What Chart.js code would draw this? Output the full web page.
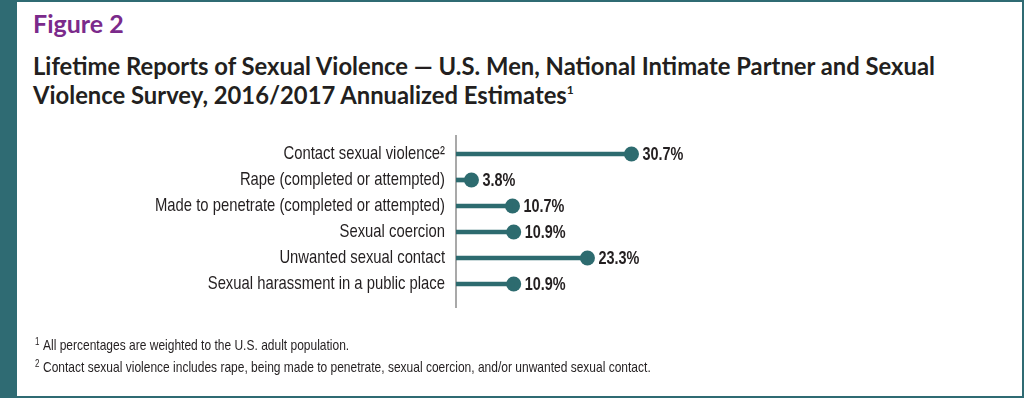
<!DOCTYPE html>
<html>
<head>
<meta charset="utf-8">
<title>Figure 2</title>
<script src="https://cdn.jsdelivr.net/npm/chart.js"></script>
<style>
  html, body { margin: 0; padding: 0; }
  body { width: 1024px; height: 398px; background: #2f6b73; position: relative; overflow: hidden; }
  #panel { position: absolute; left: 17px; top: 2px; width: 1005px; height: 394px; background: #fff; }
  .fig { position: absolute; left: 33px; top: 11px; font: 700 25px/24px Lato, "Open Sans", sans-serif; color: #7b2a8b; }
  .title { position: absolute; left: 33px; top: 52px; font: 700 23.8px/29px Lato, "Open Sans", sans-serif; color: #231f20; white-space: nowrap; }
  .title sup { font-size: 12px; vertical-align: 10px; line-height: 0; }
  .fn { position: absolute; left: 35px; font: 400 15px/22px "Liberation Sans", Arial, sans-serif; color: #231f20; white-space: nowrap; transform: scaleX(0.8); transform-origin: 0 0; }
  .fn .n { display: inline-block; width: 10px; font-size: 10px; vertical-align: 5px; line-height: 0; }
  #chart { position: absolute; left: 0; top: 0; }
</style>
</head>
<body>
<div id="panel"></div>
<div class="fig">Figure 2</div>
<div class="title">Lifetime Reports of Sexual Violence — U.S. Men, National Intimate Partner and Sexual<br>Violence Survey, 2016/2017 Annualized Estimates<sup>1</sup></div>
<canvas id="chart" width="1024" height="398"></canvas>
<div class="fn" style="top:334px"><span class="n">1</span>All percentages are weighted to the U.S. adult population.</div>
<div class="fn" style="top:356px"><span class="n">2</span>Contact sexual violence includes rape, being made to penetrate, sexual coercion, and/or unwanted sexual contact.</div>

<script>
  const categories = [
    'Contact sexual violence²',
    'Rape (completed or attempted)',
    'Made to penetrate (completed or attempted)',
    'Sexual coercion',
    'Unwanted sexual contact',
    'Sexual harassment in a public place'
  ]
  const percents = [30.7, 3.8, 10.7, 10.9, 23.3, 10.9]

  const teal = '#2d6b6f'
  const sans = '"Liberation Sans", Arial, sans-serif'
  const axisStart = 1.2

  // vertical axis line, a bit longer than the category bands
  const axisLine = {
    id: 'axisLine',
    beforeDatasetsDraw(chart) {
      const { ctx, chartArea } = chart
      ctx.save()
      ctx.strokeStyle = '#8c8c8c'
      ctx.lineWidth = 1.5
      ctx.beginPath()
      ctx.moveTo(chartArea.left, chartArea.top - 6)
      ctx.lineTo(chartArea.left, chartArea.bottom + 11)
      ctx.stroke()
      ctx.restore()
    }
  }

  // no narrow face installed, so condense by hand
  function narrowText(ctx, text, x, y, align, squeeze) {
    ctx.save()
    ctx.translate(x, y)
    ctx.scale(squeeze, 1)
    ctx.textAlign = align
    ctx.fillText(text, 0, 0)
    ctx.restore()
  }

  // category names, right aligned against the axis
  const categoryLabels = {
    id: 'categoryLabels',
    afterDraw(chart) {
      const { ctx, chartArea } = chart
      const yScale = chart.scales.y
      ctx.save()
      ctx.font = '19px ' + sans
      ctx.fillStyle = '#231f20'
      ctx.textBaseline = 'middle'
      categories.forEach((name, i) => {
        narrowText(ctx, name, chartArea.left - 11, yScale.getPixelForValue(i), 'right', 0.78)
      })
      ctx.restore()
    }
  }

  // percent labels next to the dots
  const valueLabels = {
    id: 'valueLabels',
    afterDatasetsDraw(chart) {
      const { ctx } = chart
      const meta = chart.getDatasetMeta(1)
      ctx.save()
      ctx.font = 'bold 18.5px ' + sans
      ctx.fillStyle = '#231f20'
      ctx.textBaseline = 'middle'
      meta.data.forEach((pt, i) => {
        narrowText(ctx, percents[i].toFixed(1) + '%', pt.x + 11, pt.y + 1, 'left', 0.78)
      })
      ctx.restore()
    }
  }

  new Chart(document.getElementById('chart'), {
    type: 'bar',
    data: {
      labels: categories,
      datasets: [{
        data: percents,
        base: axisStart,
        barThickness: 4,
        backgroundColor: teal,
        borderWidth: 0
      }, {
        type: 'line',
        data: percents,
        showLine: false,
        pointRadius: 7.5,
        pointBackgroundColor: teal,
        pointBorderWidth: 0,
        clip: false
      }]
    },
    options: {
      indexAxis: 'y',
      responsive: false,
      animation: false,
      layout: { padding: { top: 141, bottom: 101, left: 0, right: 129 } },
      plugins: {
        legend: { display: false },
        tooltip: { enabled: false }
      },
      scales: {
        x: {
          type: 'linear',
          min: axisStart,
          max: 75,
          display: false
        },
        y: {
          offset: true,
          grid: { display: false, drawTicks: false },
          border: { display: false },
          ticks: { display: false },
          afterFit(scale) { scale.width = 456 }
        }
      }
    },
    plugins: [axisLine, categoryLabels, valueLabels]
  })
</script>
</body>
</html>
